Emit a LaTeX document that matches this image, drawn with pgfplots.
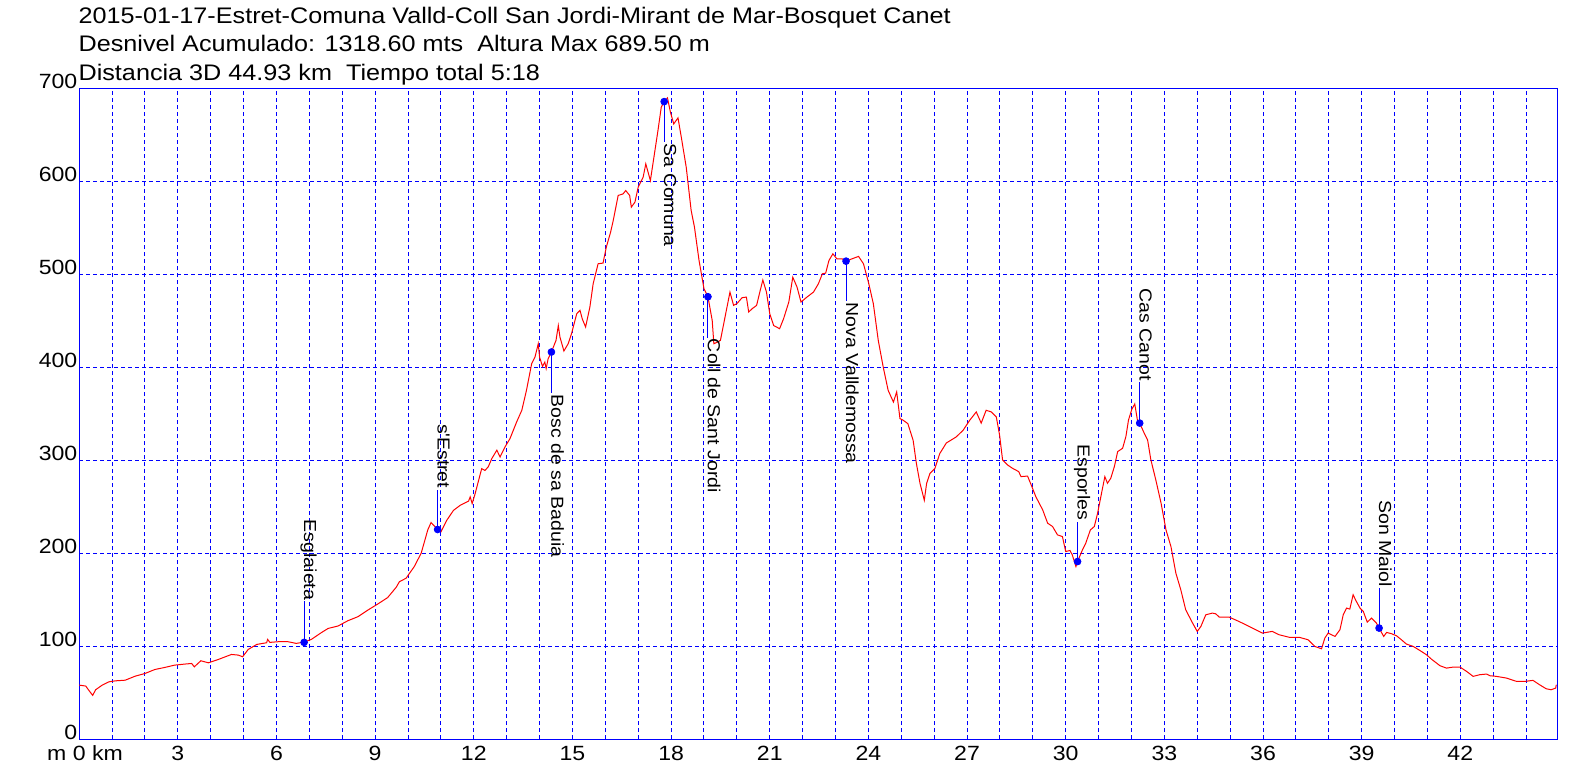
\documentclass[border=0pt]{standalone}
\usepackage{fontspec}
\setmainfont[FakeStretch=1.12]{Liberation Sans}
\usepackage{pgfplots}
\pgfplotsset{compat=1.18}

\newcommand\titlefont{\fontsize{11.25}{13}\selectfont}
\newcommand\tickfont{\fontsize{10.3}{12}\selectfont}
\newcommand\labfont{\fontsize{8.7}{10}\selectfont}

\begin{document}
\begin{tikzpicture}
\path[use as bounding box] (-39.6pt,-19.5pt) rectangle (758.4pt,369.5pt);
\begin{axis}[
  scale only axis,
  width=739.05pt, height=325.2pt,
  xmin=0, xmax=44.95,
  ymin=0, ymax=700,
  xtick={0,3,...,42},
  xticklabels={\llap{m }0\rlap{ km},3,6,9,12,15,18,21,24,27,30,33,36,39,42},
  minor xtick={1,2,...,44},
  ytick={0,100,...,700},
  grid=both,
  major grid style={blue, line width=0.5pt, dash pattern=on 2pt off 1.5pt},
  minor grid style={blue, line width=0.5pt, dash pattern=on 2pt off 1.5pt},
  axis line style={blue, line width=0.5pt},
  tick style={draw=none},
  /pgf/number format/assume math mode=true,
  tick label style={font=\tickfont, inner sep=0pt},
  xticklabel style={anchor=base, yshift=-10.85pt},
  yticklabel style={anchor=base east, xshift=-0.75pt},
]
% perfil
\addplot[red, line width=0.5pt] coordinates {
(0,58)(0.2,57)(0.29,52.5)(0.41,47)(0.5,53)(0.7,58)(0.9,61.5)(1.1,62.6)(1.4,63.3)
(1.7,67.6)(2.0,70.5)(2.3,74.8)(2.6,77)(2.9,79.5)(3.2,80.6)(3.42,81.3)(3.5,77.7)
(3.7,84.2)(3.93,82)(4.23,85.6)(4.63,91)(4.84,90.3)(4.97,88.5)(5.14,96.4)(5.4,101.8)
(5.7,103.6)(5.73,107.2)(5.8,104)(6.05,104.7)(6.35,104.7)(6.6,102.9)(6.84,104.3)
(7.06,107.2)(7.36,114.4)(7.57,119)(7.87,121.6)(8.17,127.3)(8.48,131.7)(8.78,138.8)
(9.08,145.3)(9.38,152.2)(9.64,163.3)(9.74,169.4)(9.94,173)(10.19,185.6)(10.4,200)
(10.6,225)(10.7,233)(10.78,230)(10.9,225.5)(11.0,223)
(11.18,235.5)(11.38,246)(11.59,251.6)(11.84,256)(11.89,260.6)(11.95,253.4)(12.04,264)
(12.24,291)(12.34,289)(12.44,293)(12.55,302)(12.7,310.8)(12.8,303.6)(12.95,314.4)
(13.1,323.3)(13.3,341)(13.46,353.8)(13.6,375)(13.76,404)(13.86,411)(13.96,425.4)
(14.0,411)(14.09,401)(14.16,405.7)(14.2,398.6)(14.26,409.3)(14.36,416.5)(14.5,429)
(14.57,445)(14.62,432.6)(14.74,417.6)(14.87,425.4)(14.97,436)(15.13,457.7)(15.23,461.3)
(15.3,452)(15.4,443.4)(15.53,464.9)(15.63,490)(15.78,511.5)(15.93,512.2)(16.03,529.4)
(16.16,545.5)(16.24,558)(16.39,585)(16.54,586.7)(16.62,590.3)(16.74,585)(16.79,572.4)
(16.9,577.8)(17.0,594)(17.15,604.7)(17.23,619)(17.3,610)(17.37,601)(17.47,624.4)
(17.6,654.8)(17.7,679.9)(17.79,686)(17.89,690)(17.98,674.5)(18.08,662)(18.21,668.5)
(18.31,647.7)(18.46,615.4)(18.61,568.8)(18.71,551)(18.85,515)
(19.0,484.6)(19.12,476)(19.25,450.5)(19.3,425.4)(19.4,427)(19.5,429)(19.66,457.7)
(19.79,481)(19.9,466.7)(20.0,468.5)(20.16,475)(20.29,475.6)(20.36,459.5)(20.46,463)
(20.6,466.7)(20.71,482.8)(20.79,494)(20.9,481)(21.0,457.7)(21.12,445)(21.3,441.6)
(21.42,452.3)(21.58,470.3)(21.7,497)(21.83,486.4)(21.95,470.3)(22.13,475.6)(22.33,481)
(22.48,490)(22.6,500.7)(22.7,501.4)(22.8,515)(22.92,522.2)(23.04,516.8)(23.2,516.8)
(23.32,514.3)(23.5,516.8)(23.7,519.4)(23.85,511.5)(24.0,491.8)(24.15,468.5)(24.3,429)
(24.45,400.4)(24.6,375.3)(24.76,362.7)(24.86,373.5)(24.96,344.8)(25.06,343)(25.2,339.4)
(25.36,321.5)(25.46,296.4)(25.57,275)(25.7,257)(25.77,275)(25.87,285.7)(26.02,291)
(26.17,307.2)(26.37,318.6)(26.67,325.1)(26.88,332.3)(27.08,343)(27.28,352)(27.43,340)
(27.58,353.8)(27.74,352)(27.89,346.6)(27.99,326.9)
(28.08,300.4)(28.23,295)(28.38,291.4)(28.57,287.8)(28.64,282.4)(28.84,283)(28.97,271.7)
(29.09,260.9)(29.3,246.6)(29.45,232.3)(29.6,228.7)(29.75,219.7)(29.9,217.9)(30.0,201.8)
(30.13,202.9)(30.2,198.2)(30.31,185.7)(30.36,191)(30.51,203.6)(30.61,210.8)(30.75,225)
(30.87,228.7)(30.97,243)(31.07,261)(31.19,282.4)(31.27,275.3)(31.37,280.6)(31.48,293.2)
(31.58,309.3)(31.73,312.9)(31.83,325.4)(31.91,343.4)(32.01,354.8)(32.1,360.6)(32.18,343.4)
(32.25,339.8)(32.39,329)(32.49,321.9)(32.59,300.4)(32.74,278.9)(32.9,253.8)(33.05,225)
(33.2,207.2)(33.35,178.5)(33.5,160.6)(33.65,139)(33.86,124.7)(34.0,115.8)(34.11,121.1)
(34.26,133.7)(34.46,135.5)(34.56,134.8)(34.67,131.2)(34.97,131.2)(35.27,126.5)(35.68,119.4)
(35.98,114)(36.28,115.8)(36.49,112.2)
(36.82,109.3)(37.12,109.3)(37.37,106.8)(37.58,99.6)(37.78,97.1)(37.88,108.6)(37.98,114)
(38.19,110.4)(38.34,117.6)(38.44,133.7)(38.54,140.9)(38.64,139.8)(38.74,155.2)(38.84,148)
(38.95,140.9)(39.05,137.3)(39.17,125.8)(39.3,130.1)(39.45,124.7)(39.53,119.4)(39.67,110.4)
(39.76,114.7)(39.91,113.3)(40.06,111.1)(40.21,106.8)(40.36,102.2)(40.57,99.6)(40.77,95.3)
(40.97,90.7)(41.12,86)(41.38,78.9)(41.58,76.3)(41.78,77.4)(41.99,77.4)(42.19,72.8)
(42.39,67.4)(42.59,69.2)(42.8,69.9)(42.9,68.1)(43.1,67.4)(43.4,65.6)(43.71,62)(43.96,62)
(44.21,63.1)(44.41,58.4)(44.61,54.1)(44.76,53)(44.9,54.8)(44.92,58.4)
};
% waypoints: lines
\addplot[blue, line width=0.5pt] coordinates {(6.84,104)(6.84,148)};
\addplot[blue, line width=0.5pt] coordinates {(10.9,225.5)(10.9,268.5)};
\addplot[blue, line width=0.5pt] coordinates {(14.36,416.5)(14.36,372)};
\addplot[blue, line width=0.5pt] coordinates {(17.79,686)(17.79,642)};
\addplot[blue, line width=0.5pt] coordinates {(19.12,476)(19.12,432)};
\addplot[blue, line width=0.5pt] coordinates {(23.32,514.3)(23.32,471)};
\addplot[blue, line width=0.5pt] coordinates {(30.36,191)(30.36,234)};
\addplot[blue, line width=0.5pt] coordinates {(32.25,340)(32.25,384)};
\addplot[blue, line width=0.5pt] coordinates {(39.53,119.4)(39.53,162)};
% waypoints: dots
\addplot[only marks, mark=*, mark size=1.7pt, blue] coordinates {
(6.84,104)(10.9,225.5)(14.36,416.5)(17.79,686)(19.12,476)(23.32,514.3)
(30.36,191)(32.25,340)(39.53,119.4)
};
\begin{scope}[every node/.style={rotate=-90, inner sep=0pt, font=\labfont}]
\node[anchor=base east] at (axis cs:6.84,149) {Esglaieta};
\node[anchor=base east] at (axis cs:10.9,269.5) {s\textquotesingle Estret};
\node[anchor=base west] at (axis cs:14.36,371) {Bosc de sa Baduia};
\node[anchor=base west] at (axis cs:17.79,641) {Sa Comuna};
\node[anchor=base west] at (axis cs:19.12,431) {Coll de Sant Jordi};
\node[anchor=base west] at (axis cs:23.32,470) {Nova Valldemossa};
\node[anchor=base east] at (axis cs:30.36,235) {Esporles};
\node[anchor=base east] at (axis cs:32.25,385) {Cas Canot};
\node[anchor=base east] at (axis cs:39.53,163) {Son Maiol};
\end{scope}
\end{axis}
\node[anchor=base west, inner sep=0pt, font=\titlefont] at (-0.5pt,357.5pt)
  {2015-01-17-Estret-Comuna Valld-Coll San Jordi-Mirant de Mar-Bosquet Canet};
\node[anchor=base west, inner sep=0pt, font=\titlefont] at (-0.5pt,343.5pt)
  {Desnivel Acumulado: 1318.60 mts\ \ Altura Max 689.50 m};
\node[anchor=base west, inner sep=0pt, font=\titlefont] at (-0.5pt,329pt)
  {Distancia 3D 44.93 km\ \ Tiempo total 5:18};
\end{tikzpicture}
\end{document}
